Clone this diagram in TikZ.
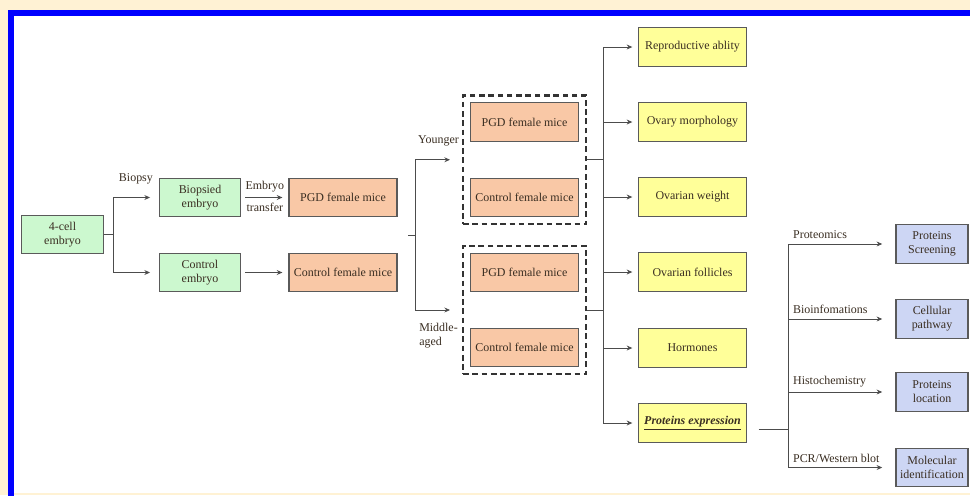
\documentclass[tikz,border=0pt]{standalone}
\usepackage{fontspec}
\setmainfont{Liberation Serif}
\usetikzlibrary{arrows.meta, fit}

\definecolor{cream}{HTML}{FFF2D4}
\definecolor{framblue}{HTML}{0000FF}
\definecolor{mint}{HTML}{CCF8CF}
\definecolor{salmon}{HTML}{F9C8A6}
\definecolor{lemon}{HTML}{FFFF99}
\definecolor{lilac}{HTML}{CDD6F4}
\definecolor{boxline}{HTML}{5A5A5A}
\definecolor{ink}{HTML}{3A2E22}

\begin{document}
\begin{tikzpicture}[x=0.025cm, y=-0.025cm,
		font=\fontsize{8.5}{10}\selectfont, text=ink,
		box/.style={draw=boxline, line width=0.8pt, align=center, minimum height=0.96cm, inner sep=1pt},
		greenbox/.style={box, fill=mint, minimum width=2.03cm},
		micebox/.style={box, fill=salmon, minimum width=2.7cm},
		testbox/.style={box, fill=lemon, minimum width=2.68cm},
		probebox/.style={box, fill=lilac, minimum width=1.8cm},
		agegroup/.style={draw=black!80, line width=1.6pt, dash pattern=on 4pt off 2.6pt, inner sep=0.17cm},
		wire/.style={draw=black!70, line width=0.6pt},
		arr/.style={wire, -{Stealth[length=4pt, width=3.5pt]}, shorten >=#1},
		arr/.default=0.22cm]
		\useasboundingbox (0,0) rectangle (970,495);
		\clip (0,0) rectangle (970,495);
		\fill[cream] (0,0) rectangle (970,495);
		\fill[white] (11,13) rectangle (980,493);
		\draw[framblue, line width=0.15cm] (11,500) -- (11,13) -- (980,13);

		\node[greenbox] (cell) at (62.5,234.5) {4-cell\\embryo};
		\node[greenbox] (bio) at (200,197.5) {Biopsied\\embryo};
		\node[greenbox] (ctle) at (200,272.5) {Control\\embryo};
		\node[micebox] (pgd) at (343,197.5) {PGD female mice};
		\node[micebox] (ctlm) at (343,272.5) {Control female mice};

		\node[micebox] (yPgd) at (524.5,122) {PGD female mice};
		\node[micebox] (yCtl) at (524.5,197.5) {Control female mice};
		\node[micebox] (mPgd) at (524.5,272.5) {PGD female mice};
		\node[micebox] (mCtl) at (524.5,347.5) {Control female mice};
		\node[agegroup, fit=(yPgd)(yCtl)] (young) {};
		\node[agegroup, fit=(mPgd)(mCtl)] (middle) {};

		\node[testbox] (repro) at (692.5,47) {Reproductive ablity};
		\node[testbox] (morph) at (692.5,122) {Ovary morphology};
		\node[testbox] (weight) at (692.5,197) {Ovarian weight};
		\node[testbox] (follic) at (692.5,272) {Ovarian follicles};
		\node[testbox] (hormo) at (692.5,348) {Hormones};
		\node[testbox] (prot) at (692.5,423) {\underline{\textbf{\textit{Proteins expression}}}};

		\node[probebox] (screen) at (932,244) {Proteins\\Screening};
		\node[probebox] (path) at (932,319) {Cellular\\pathway};
		\node[probebox] (loc) at (932,392) {Proteins\\location};
		\node[probebox] (molec) at (932,467.5) {Molecular\\identification};

		\coordinate (j1) at (113,234.5);
		\draw[wire] (cell.east) -- (j1);
		\draw[arr] (j1) |- node[pos=0.75, above, yshift=6pt] {Biopsy} (bio.west);
		\draw[arr] (j1) |- (ctle.west);
		\draw[arr=0.15cm, shorten <=0.1cm] (bio.east) -- node[above] {Embryo} node[below] {transfer} (pgd.west);
		\draw[arr=0.15cm, shorten <=0.1cm] (ctle.east) -- (ctlm.west);

		\coordinate (s2) at (408,235);
		\coordinate (j2) at (415,235);
		\draw[wire] (s2) -- (j2);
		\draw[arr=0.3cm] (j2) |- node[pos=0.75, above, yshift=6pt] {Younger} (young.west);
		\draw[arr=0.3cm] (j2) |- node[pos=0.75, below, yshift=-6pt, align=left] {Middle-\\aged} (middle.west);

		\coordinate (bus) at (603,0);
		\draw[wire] (young.east) -- (young.east -| bus);
		\draw[wire] (middle.east) -- (middle.east -| bus);
		\draw[wire] (bus |- repro.west) -- (bus |- prot.west);
		\foreach \t in {repro, morph, weight, follic, hormo, prot}
			\draw[arr=0.15cm] (bus |- \t.west) -- (\t.west);

		\coordinate (bus2) at (788,0);
		\coordinate (pstub) at ([shift={(12,6)}]prot.east);
		\draw[wire] (pstub) -- (pstub -| bus2);
		\draw[wire] (bus2 |- screen.west) -- (bus2 |- molec.west);
		\foreach \b/\l in {screen/Proteomics, path/Bioinfomations, loc/Histochemistry, molec/PCR\slash Western blot}
			\draw[arr=0.33cm] (bus2 |- \b.west) -- node[pos=0, anchor=south west] {\l} (\b.west);
	\end{tikzpicture}
\end{document}
